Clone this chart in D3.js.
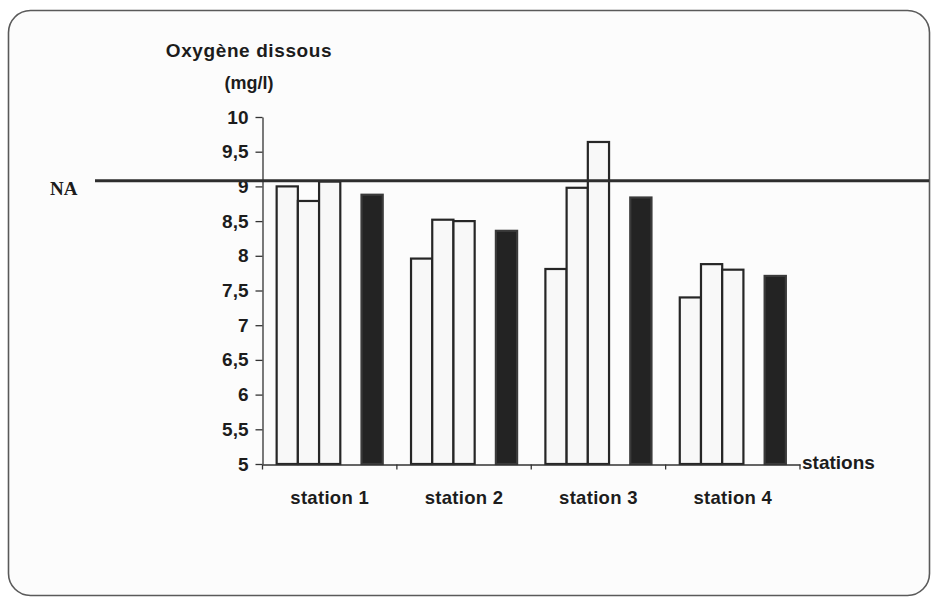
<!DOCTYPE html>
<html>
<head>
<meta charset="utf-8">
<script src="https://cdn.jsdelivr.net/npm/d3@7/dist/d3.min.js"></script>
<style>
  html, body { margin: 0; padding: 0; background: #ffffff; }
  svg { display: block; }
  .lbl { font-family: "Liberation Sans", Arial, sans-serif; font-weight: bold; fill: #1c1c1c; }
</style>
</head>
<body>
<svg id="chart" width="932" height="598"></svg>
<script>
// Oxygène dissous (mg/l) par station
const stations = ["station 1", "station 2", "station 3", "station 4"];
const mesure1 = [9.00, 7.96, 7.81, 7.40];
const mesure2 = [8.79, 8.52, 8.98, 7.88];
const mesure3 = [9.07, 8.50, 9.64, 7.80];
const moyenne = [8.88, 8.36, 8.84, 7.71];
const yTicks = [5, 5.5, 6, 6.5, 7, 7.5, 8, 8.5, 9, 9.5, 10];
const seuilNA = 9.08;

// slot order inside each station group (the fourth slot stays empty)
const slots = ["m1", "m2", "m3", "vide", "moy"];
const seriesBySlot = { m1: mesure1, m2: mesure2, m3: mesure3, moy: moyenne };

const svg = d3.select("#chart");

// panel frame
svg.append("rect")
  .attr("x", 8.5).attr("y", 10.5)
  .attr("width", 921).attr("height", 585)
  .attr("rx", 22).attr("ry", 22)
  .attr("fill", "#fcfcfc")
  .attr("stroke", "#5a5a5a").attr("stroke-width", 1.6);

const y = d3.scaleLinear().domain([5, 10]).range([464, 117]);
const x0 = d3.scaleBand().domain(stations).range([262.5, 800]).padding(0);
const x1 = d3.scaleBand().domain(slots).range([0, x0.bandwidth()])
  .paddingInner(0).paddingOuter(0.667);

const fr = d3.formatLocale({ decimal: ",", thousands: " ", grouping: [3], currency: ["", " €"] });
const fmt = v => fr.format("~g")(v);

// bars
const bars = [];
stations.forEach((s, i) => {
  slots.forEach(k => {
    if (seriesBySlot[k]) bars.push({ station: s, slot: k, value: seriesBySlot[k][i] });
  });
});

svg.append("g").selectAll("rect")
  .data(bars)
  .join("rect")
  .attr("x", d => x0(d.station) + x1(d.slot))
  .attr("y", d => y(d.value))
  .attr("width", x1.bandwidth())
  .attr("height", d => y(5) - y(d.value))
  .attr("fill", d => d.slot === "moy" ? "#232323" : "#f8f8f8")
  .attr("stroke", d => d.slot === "moy" ? "#3a3a3a" : "#262626")
  .attr("stroke-width", 2.2);

// y axis
const yAxis = d3.axisLeft(y)
  .tickValues(yTicks)
  .tickFormat(fmt)
  .tickSize(7)
  .tickSizeOuter(0)
  .tickPadding(7);

const gy = svg.append("g").attr("transform", "translate(262.5,0)").call(yAxis);
gy.select(".domain").attr("stroke", "#333").attr("stroke-width", 1.3);
gy.selectAll(".tick line").attr("stroke", "#333").attr("stroke-width", 1.3);
gy.selectAll(".tick text")
  .attr("class", "lbl")
  .style("font-size", "19px")
  .attr("fill", "#1c1c1c");

// x axis: labels centred under each group, tick marks at group edges
const xAxis = d3.axisBottom(x0).tickSize(0).tickPadding(26).tickSizeOuter(0);
const gx = svg.append("g").attr("transform", "translate(0,464.5)").call(xAxis);
gx.select(".domain").attr("stroke", "#333").attr("stroke-width", 1.3);
gx.selectAll(".tick text")
  .attr("class", "lbl")
  .style("font-size", "18.5px")
  .style("letter-spacing", "0.3px")
  .attr("fill", "#1c1c1c");

const edges = stations.map(s => x0(s)).concat([x0(stations[stations.length - 1]) + x0.bandwidth()]);
gx.selectAll("line.edge")
  .data(edges)
  .join("line")
  .attr("class", "edge")
  .attr("x1", d => d).attr("x2", d => d)
  .attr("y1", 0).attr("y2", 5)
  .attr("stroke", "#333").attr("stroke-width", 1.3);

// axis titles
svg.append("text").attr("class", "lbl")
  .attr("x", 249).attr("y", 57)
  .attr("text-anchor", "middle")
  .style("font-size", "19px")
  .style("letter-spacing", "0.6px")
  .text("Oxygène dissous");

svg.append("text").attr("class", "lbl")
  .attr("x", 249).attr("y", 89)
  .attr("text-anchor", "middle")
  .style("font-size", "18px")
  .text("(mg/l)");

svg.append("text").attr("class", "lbl")
  .attr("x", 802).attr("y", 469)
  .style("font-size", "19px")
  .text("stations");

// reference level NA
svg.append("line")
  .attr("x1", 95).attr("x2", 929)
  .attr("y1", y(seuilNA)).attr("y2", y(seuilNA))
  .attr("stroke", "#2e2e2e").attr("stroke-width", 3);

svg.append("text")
  .attr("x", 50).attr("y", y(seuilNA) + 14)
  .style("font-family", "'Liberation Serif', 'Times New Roman', serif")
  .style("font-weight", "bold")
  .style("font-size", "19px")
  .attr("fill", "#1c1c1c")
  .text("NA");
</script>
</body>
</html>
